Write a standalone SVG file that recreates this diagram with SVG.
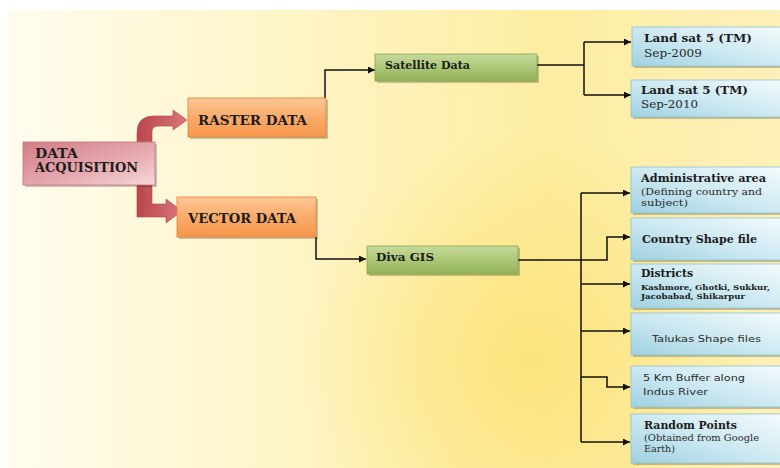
<svg xmlns="http://www.w3.org/2000/svg" width="780" height="468" viewBox="0 0 780 468">
<defs>
<linearGradient id="bg" x1="0" y1="0" x2="1" y2="0">
<stop offset="0" stop-color="#fffcee"/>
<stop offset="0.35" stop-color="#fef5c8"/>
<stop offset="0.7" stop-color="#fdeda2"/>
<stop offset="1" stop-color="#fdf0b8"/>
</linearGradient>
<radialGradient id="glow" cx="530" cy="360" r="230" gradientUnits="userSpaceOnUse">
<stop offset="0" stop-color="#fbe277" stop-opacity="0.9"/>
<stop offset="1" stop-color="#fbe277" stop-opacity="0"/>
</radialGradient>
<linearGradient id="pink" x1="0" y1="0" x2="1" y2="1">
<stop offset="0" stop-color="#d27c86"/>
<stop offset="0.6" stop-color="#e7acb2"/>
<stop offset="1" stop-color="#f5d8db"/>
</linearGradient>
<linearGradient id="red" x1="0" y1="0" x2="1" y2="0">
<stop offset="0" stop-color="#b9474c"/>
<stop offset="1" stop-color="#d9767b"/>
</linearGradient>
<linearGradient id="orange" x1="0" y1="0" x2="0" y2="1">
<stop offset="0" stop-color="#fcc796"/>
<stop offset="0.5" stop-color="#f9ab6a"/>
<stop offset="1" stop-color="#f6964b"/>
</linearGradient>
<linearGradient id="green" x1="0" y1="0" x2="0" y2="1">
<stop offset="0" stop-color="#c6da9c"/>
<stop offset="0.5" stop-color="#abc777"/>
<stop offset="1" stop-color="#93b356"/>
</linearGradient>
<linearGradient id="blue" x1="0" y1="1" x2="1" y2="0">
<stop offset="0" stop-color="#9fd1e1"/>
<stop offset="0.45" stop-color="#c9e7f0"/>
<stop offset="1" stop-color="#f4fbfd"/>
</linearGradient>
<marker id="ah" viewBox="0 0 10 10" refX="10" refY="5" markerWidth="7" markerHeight="7" markerUnits="userSpaceOnUse" orient="auto">
<path d="M0,0 L10,5 L0,10 Z" fill="#111"/>
</marker>
<style>
.sh{fill:#000;opacity:0.22}
.pk{fill:url(#pink);stroke:#c9707a;stroke-width:0.8}
.or{fill:url(#orange);stroke:#e0823a;stroke-width:0.8}
.gr{fill:url(#green);stroke:#86a64a;stroke-width:0.8}
.bl{fill:url(#blue);stroke:#8cc2d4;stroke-width:0.8}
.ar{fill:url(#red);stroke:#a8454a;stroke-width:0.6}
.t{font-family:"DejaVu Serif","Liberation Serif",serif;font-weight:bold;fill:#1c1c1c}
.n{font-family:"DejaVu Serif","Liberation Serif",serif;fill:#2a2a2a}
.s{font-family:"DejaVu Sans","Liberation Sans",sans-serif;fill:#2a2a2a}
.c{fill:none;stroke:#111;stroke-width:1.5}
.ca{fill:none;stroke:#111;stroke-width:1.5;marker-end:url(#ah)}
</style>
</defs>

<rect x="0" y="0" width="780" height="468" fill="#ffffff"/>
<rect x="8" y="10" width="772" height="458" fill="url(#bg)"/>
<rect x="8" y="10" width="772" height="458" fill="url(#glow)"/>

<g id="connectors">
<path class="ar" d="M137,150 L137,133 Q137,116 154,116 L173,116 L173,110 L187,120 L173,130 L173,126 L158,126 Q152,126 152,132 L152,150 Z"/>
<path class="ar" d="M137,180 L137,217 L166,217 L166,223 L182,211 L166,199 L166,204 L152,204 L152,180 Z"/>
<path class="ca" d="M325,98 V70 H375"/>
<path class="ca" d="M316,237 V259 H366"/>
<path class="c" d="M537,65 H584 M584,42 V95"/>
<path class="ca" d="M584,42 H631"/>
<path class="ca" d="M584,95 H631"/>
<path class="c" d="M518,260 H581 M581,193 V442"/>
<path class="ca" d="M581,193 H630"/>
<path class="ca" d="M581,260 H607 V237 H630"/>
<path class="ca" d="M581,284 H630"/>
<path class="ca" d="M581,331 H630"/>
<path class="ca" d="M581,377 H607 V387 H630"/>
<path class="ca" d="M581,442 H630"/>
</g>

<g id="data-acquisition">
<rect class="sh" x="25" y="144" width="132" height="43"/>
<rect class="pk" x="23" y="142" width="132" height="43"/>
<text class="t" font-size="12" x="35" y="158" textLength="43" lengthAdjust="spacingAndGlyphs">DATA</text>
<text class="t" font-size="12" x="35" y="172" textLength="103" lengthAdjust="spacingAndGlyphs">ACQUISITION</text>
</g>

<g id="raster-data">
<rect class="sh" x="190" y="100" width="138" height="39"/>
<rect class="or" x="188" y="98" width="138" height="39"/>
<text class="t" font-size="12.5" x="198" y="125" textLength="109" lengthAdjust="spacingAndGlyphs">RASTER DATA</text>
</g>

<g id="vector-data">
<rect class="sh" x="179" y="199" width="139" height="40"/>
<rect class="or" x="177" y="197" width="139" height="40"/>
<text class="t" font-size="12.5" x="188" y="223" textLength="108" lengthAdjust="spacingAndGlyphs">VECTOR DATA</text>
</g>

<g id="satellite-data">
<rect class="sh" x="377" y="56" width="162" height="27"/>
<rect class="gr" x="375" y="54" width="162" height="27"/>
<text class="t" font-size="11" x="385" y="69" textLength="85" lengthAdjust="spacingAndGlyphs">Satellite Data</text>
</g>

<g id="diva-gis">
<rect class="sh" x="369" y="248" width="151" height="28"/>
<rect class="gr" x="367" y="246" width="151" height="28"/>
<text class="t" font-size="11" x="376" y="261" textLength="58" lengthAdjust="spacingAndGlyphs">Diva GIS</text>
</g>

<g id="landsat-2009">
<rect class="sh" x="634" y="29" width="150" height="39"/>
<rect class="bl" x="632" y="27" width="150" height="39"/>
<text class="t" font-size="11.5" x="644" y="42" textLength="108" lengthAdjust="spacingAndGlyphs">Land sat 5 (TM)</text>
<text class="n" font-size="11" x="644" y="57" textLength="58" lengthAdjust="spacingAndGlyphs">Sep-2009</text>
</g>

<g id="landsat-2010">
<rect class="sh" x="633" y="82" width="150" height="37"/>
<rect class="bl" x="631" y="80" width="150" height="37"/>
<text class="t" font-size="11.5" x="641" y="94" textLength="107" lengthAdjust="spacingAndGlyphs">Land sat 5 (TM)</text>
<text class="n" font-size="11" x="641" y="108" textLength="57" lengthAdjust="spacingAndGlyphs">Sep-2010</text>
</g>

<g id="administrative-area">
<rect class="sh" x="633" y="169" width="150" height="46"/>
<rect class="bl" x="631" y="167" width="150" height="46"/>
<text class="t" font-size="11" x="641" y="182" textLength="125" lengthAdjust="spacingAndGlyphs">Administrative area</text>
<text class="n" font-size="9.5" x="641" y="195" textLength="121" lengthAdjust="spacingAndGlyphs">(Defining country and</text>
<text class="n" font-size="9.5" x="641" y="206" textLength="47" lengthAdjust="spacingAndGlyphs">subject)</text>
</g>

<g id="country-shape-file">
<rect class="sh" x="633" y="220" width="150" height="42"/>
<rect class="bl" x="631" y="218" width="150" height="42"/>
<text class="t" font-size="11" x="642" y="243" textLength="115" lengthAdjust="spacingAndGlyphs">Country Shape file</text>
</g>

<g id="districts">
<rect class="sh" x="633" y="266" width="150" height="44"/>
<rect class="bl" x="631" y="264" width="150" height="44"/>
<text class="t" font-size="11" x="641" y="277" textLength="52" lengthAdjust="spacingAndGlyphs">Districts</text>
<text class="t" font-size="8" x="641" y="290" textLength="129" lengthAdjust="spacingAndGlyphs">Kashmore, Ghotki, Sukkur,</text>
<text class="t" font-size="8" x="641" y="299" textLength="104" lengthAdjust="spacingAndGlyphs">Jacobabad, Shikarpur</text>
</g>

<g id="talukas-shape-files">
<rect class="sh" x="633" y="315" width="150" height="42"/>
<rect class="bl" x="631" y="313" width="150" height="42"/>
<text class="s" font-size="9.5" x="652" y="342" textLength="109" lengthAdjust="spacingAndGlyphs">Talukas Shape files</text>
</g>

<g id="buffer">
<rect class="sh" x="633" y="368" width="150" height="41"/>
<rect class="bl" x="631" y="366" width="150" height="41"/>
<text class="s" font-size="9.5" x="643" y="381" textLength="102" lengthAdjust="spacingAndGlyphs">5 Km Buffer along</text>
<text class="s" font-size="9.5" x="643" y="395" textLength="65" lengthAdjust="spacingAndGlyphs">Indus River</text>
</g>

<g id="random-points">
<rect class="sh" x="633" y="416" width="150" height="49"/>
<rect class="bl" x="631" y="414" width="150" height="49"/>
<text class="t" font-size="11" x="644" y="429" textLength="93" lengthAdjust="spacingAndGlyphs">Random Points</text>
<text class="n" font-size="9" x="644" y="441" textLength="115" lengthAdjust="spacingAndGlyphs">(Obtained from Google</text>
<text class="n" font-size="9" x="644" y="452" textLength="31" lengthAdjust="spacingAndGlyphs">Earth)</text>
</g>
</svg>
